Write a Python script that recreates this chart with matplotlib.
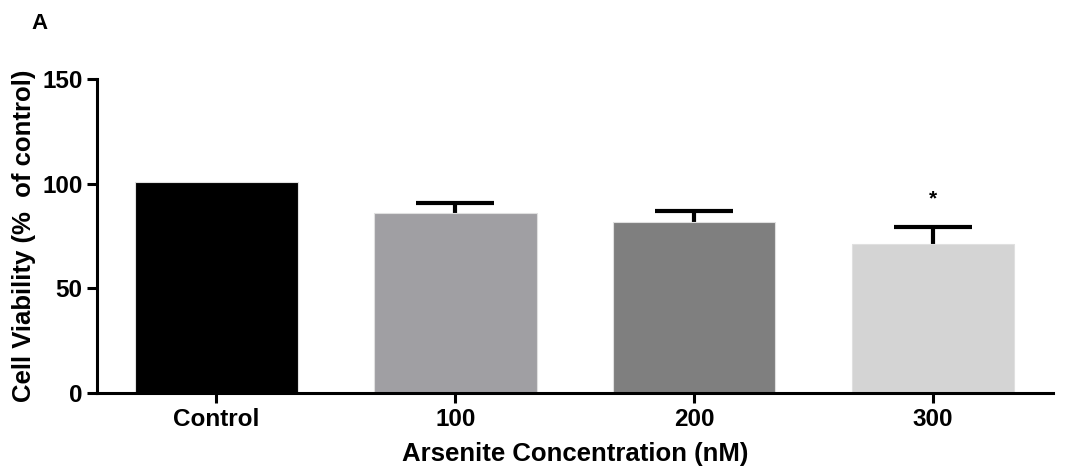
import matplotlib.pyplot as plt

categories = ['Control', '100', '200', '300']
viability = [101, 86.2, 81.7, 71.4]
sem = [0, 4.6, 5.0, 7.9]
colors = ['#000000', '#a09fa3', '#7f7f7f', '#d4d4d4']
marks = ['', '', '', '*']


def main():
    plt.rcParams['font.family'] = ['Liberation Sans', 'DejaVu Sans']
    plt.rcParams['font.weight'] = 'bold'

    fig = plt.figure(figsize=(10.73, 4.70), dpi=100)
    ax = fig.add_axes([0.0904, 0.1638, 0.8906, 0.6682])

    x = list(range(len(categories)))
    ax.bar(x, viability, width=0.68, color=colors, edgecolor='#e0e0e0', linewidth=0.8, zorder=2)

    # upper error bars only, skip groups without error
    ex = [i for i in x if sem[i] > 0]
    ey = [viability[i] for i in ex]
    ee = [sem[i] for i in ex]
    _, caps, _ = ax.errorbar(ex, ey, yerr=[[0] * len(ee), ee], fmt='none', ecolor='black',
                             elinewidth=3, capsize=28, capthick=3, zorder=1)
    caps[0].set_visible(False)

    for i, m in enumerate(marks):
        if m:
            ax.text(i, viability[i] + sem[i] + 9, m, ha='center', va='bottom', fontsize=15)

    ax.set_xlim(-0.5, 3.5)
    ax.set_ylim(0, 150)
    ax.set_yticks([0, 50, 100, 150])
    ax.set_xticks(x)
    ax.set_xticklabels(categories)
    ax.tick_params(axis='both', labelsize=17.5, width=2.2, length=7)
    ax.spines['top'].set_visible(False)
    ax.spines['right'].set_visible(False)
    ax.spines['left'].set_linewidth(2.2)
    ax.spines['bottom'].set_linewidth(2.2)

    ax.set_xlabel('Arsenite Concentration (nM)', fontsize=18.5, fontweight='bold', labelpad=8)
    ax.set_ylabel('Cell Viability (%  of control)', fontsize=18.5, fontweight='bold', labelpad=4)

    fig.text(0.029, 0.951, 'A', fontsize=16, fontweight='bold', va='center')

    fig.savefig('out.png', dpi=100)


if __name__ == "__main__":
    main()
